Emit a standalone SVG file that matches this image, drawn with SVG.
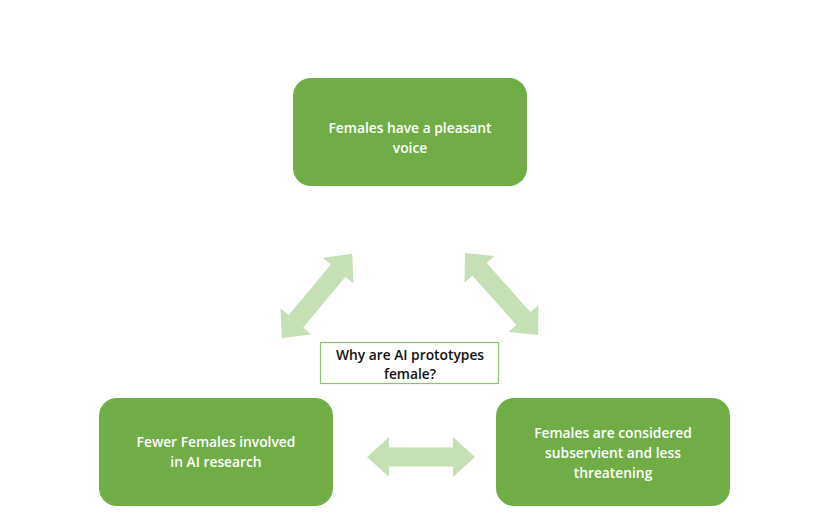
<svg xmlns="http://www.w3.org/2000/svg" width="820" height="525" viewBox="0 0 820 525">
<defs>
<style>
.node{fill:#70ad47;}
.lbl{font-family:"Open Sans","Liberation Sans",sans-serif;font-weight:600;font-size:13.8px;fill:#ffffff;text-anchor:middle;}
.clbl{font-family:"Open Sans","Liberation Sans",sans-serif;font-weight:600;font-size:13.8px;fill:#111111;text-anchor:middle;}
.arr{fill:#c5e0b4;}
</style>
</defs>
<rect width="820" height="525" fill="#ffffff"/>
<g id="connectors">
<polygon class="arr" transform="translate(317,296) rotate(-50.2)" points="-55,0 -33,-20 -33,-9.5 33,-9.5 33,-20 55,0 33,20 33,9.5 -33,9.5 -33,20"/>
<polygon class="arr" transform="translate(501.5,294) rotate(48.3)" points="-55,0 -33,-20 -33,-9.5 33,-9.5 33,-20 55,0 33,20 33,9.5 -33,9.5 -33,20"/>
<polygon class="arr" transform="translate(421,457)" points="-54,0 -32,-20 -32,-9.5 32,-9.5 32,-20 54,0 32,20 32,9.5 -32,9.5 -32,20"/>
</g>
<g id="node-top">
<rect class="node" x="293" y="78" width="234" height="108" rx="18"/>
<text class="lbl" x="410" y="133">Females have a pleasant</text>
<text class="lbl" x="410" y="153">voice</text>
</g>
<g id="node-center">
<rect x="320.5" y="342.5" width="178" height="41" fill="#ffffff" stroke="#8fc26f" stroke-width="1.2"/>
<text class="clbl" x="410" y="360">Why are AI prototypes</text>
<text class="clbl" x="410" y="379">female?</text>
</g>
<g id="node-left">
<rect class="node" x="99" y="398" width="234" height="108" rx="18"/>
<text class="lbl" x="216" y="447">Fewer Females involved</text>
<text class="lbl" x="216" y="467">in AI research</text>
</g>
<g id="node-right">
<rect class="node" x="496" y="398" width="234" height="108" rx="18"/>
<text class="lbl" x="613" y="438">Females are considered</text>
<text class="lbl" x="613" y="458">subservient and less</text>
<text class="lbl" x="613" y="478">threatening</text>
</g>
</svg>
